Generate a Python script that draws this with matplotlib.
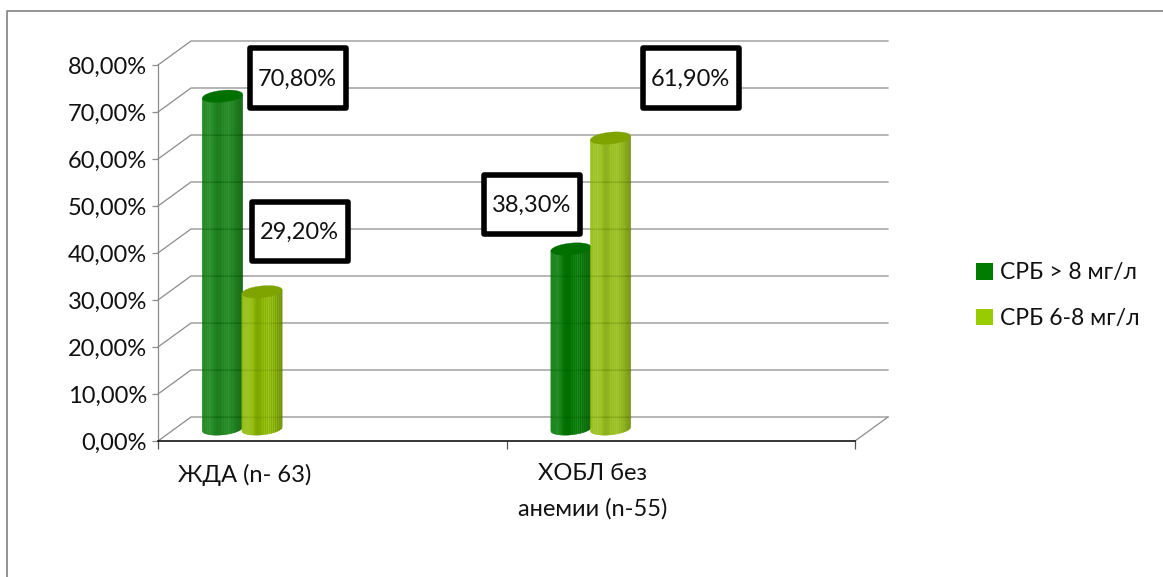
import numpy as np
import matplotlib
matplotlib.use("Agg")
import matplotlib.pyplot as plt
from matplotlib.patches import Polygon, Rectangle

plt.rcParams['font.family'] = ['Lato', 'Noto Sans', 'DejaVu Sans']

# Chart data
categories = ["ЖДА (n- 63)", "ХОБЛ без\nанемии (n-55)"]
series_names = ["СРБ > 8 мг/л", "СРБ 6-8 мг/л"]
crp_high = [70.8, 38.3]
crp_mid = [29.2, 61.9]
y_ticks = [0, 10, 20, 30, 40, 50, 60, 70, 80]

# Colours
GREEN = "#007d00"
LIME = "#99cc00"
GREEN_BODY = "#007800"
LIME_BODY = "#8dba00"
GREEN_TOP = "#007000"
LIME_TOP = "#7fa400"
GRID = "#8c8c8c"
INK = "#111111"

FONT_PT = 17

W, H = 1163, 577
LEFT, RIGHT, BOTTOM, TOP = 158, 855, 441, 65
fig = plt.figure(figsize=(W / 100, H / 100), dpi=100)
ax = fig.add_axes([LEFT / W, 1 - BOTTOM / H, (RIGHT - LEFT) / W, (BOTTOM - TOP) / H])
ax.set_xlim(0, 2)
ax.set_ylim(0, 80)
ax.patch.set_alpha(0)

PX_X = 2 / (RIGHT - LEFT)
PX_Y = 80 / (BOTTOM - TOP)


def px(x, y):
    """Convert figure pixels (origin top left) into axis units."""
    return (x - LEFT) * PX_X, (BOTTOM - y) * PX_Y


# Outer chart frame, open on the right and at the bottom
fig.add_artist(plt.Line2D([7 / W, 7 / W, 1], [0, 1 - 11 / H, 1 - 11 / H],
                          color="#8a8a8a", lw=1.3))

# Back wall grid and the slanted floor/side lines
DEPTH_X, DEPTH_Y = 33 * PX_X, 24 * PX_Y
for v in y_ticks:
    ax.plot([0, DEPTH_X, 2 + DEPTH_X], [v, v + DEPTH_Y, v + DEPTH_Y],
            color=GRID, lw=0.9, clip_on=False, zorder=1)
ax.plot([2, 2 + DEPTH_X], [0, DEPTH_Y], color=GRID, lw=0.9, clip_on=False, zorder=1)

# Brightness of each vertical facet across a cylinder: >0 towards white, <0 towards black
facets = [0.04, 0.07, 0.03, 0.09, 0.04, 0.11, 0.05, 0.13, 0.06, 0.05,
          0.04, 0.01, -0.03, -0.08, -0.10, -0.10, -0.10, -0.09, -0.08, -0.05,
          0.05, -0.05, 0.08, -0.03, 0.09, -0.02, 0.12, -0.02, 0.07, -0.08,
          0.06, -0.13, 0.00, -0.17, -0.06, -0.21, -0.13, -0.23, -0.19, -0.25]


def shade(colour, amount):
    rgb = np.array(matplotlib.colors.to_rgb(colour))
    return tuple(rgb + (1 - rgb) * amount) if amount > 0 else tuple(rgb * (1 + amount))


RADIUS = 20.2 * PX_X
ELL_H = 5.9 * PX_Y
TILT = 1.9 * PX_Y
BASE = 12 * PX_Y


def cylinder(cx, value, body, top, z):
    n = len(facets)
    edges = np.linspace(-1, 1, n + 1)
    y0, y1 = BASE, BASE + value
    for i, amount in enumerate(facets):
        t = np.linspace(edges[i], edges[i + 1], 5)
        low = y0 - ELL_H * np.sqrt(1 - t ** 2) + TILT * t
        high = y1 + TILT * t
        xs = cx + RADIUS * t
        c = shade(body, amount)
        verts = np.r_[np.c_[xs, low], np.c_[xs[::-1], high[::-1]]]
        ax.add_patch(Polygon(verts, closed=True, fc=c, ec=c, lw=0.2, clip_on=False, zorder=z))
    a = np.linspace(0, 2 * np.pi, 80)
    verts = np.c_[cx + RADIUS * np.cos(a), y1 + ELL_H * np.sin(a) + TILT * np.cos(a)]
    ax.add_patch(Polygon(verts, closed=True, fc=top, ec=top, lw=0.2, clip_on=False, zorder=z + 0.1))
    # Wall grid lines show faintly through the bar
    for v in y_ticks:
        yv = v + DEPTH_Y
        if y0 < yv < y1:
            ax.plot([cx - RADIUS, cx + RADIUS], [yv, yv], color="#000000", alpha=0.07,
                    lw=0.9, clip_on=False, zorder=z + 0.05)


for i in range(len(categories)):
    c0 = i + (64.5 * PX_X)
    c1 = i + (104.0 * PX_X)
    cylinder(c0, crp_high[i], GREEN_BODY, GREEN_TOP, 3)
    cylinder(c1, crp_mid[i], LIME_BODY, LIME_TOP, 4)

# Value callouts
box_spots = {
    (0, 0): (249.5, 48.5),
    (0, 1): (251.5, 201.5),
    (1, 0): (484.0, 174.5),
    (1, 1): (642.5, 48.5),
}
BOX_W, BOX_H = 96, 59
for (cat, ser), (bx, by) in box_spots.items():
    value = (crp_high, crp_mid)[ser][cat]
    x0, y1 = px(bx, by)
    x1, y0 = px(bx + BOX_W, by + BOX_H)
    ax.add_patch(Rectangle((x0, y0), x1 - x0, y1 - y0, fc="white", ec="black", lw=4.0,
                           joinstyle="round", clip_on=False, zorder=8))
    ax.text((x0 + x1) / 2, (y0 + y1) / 2 - 1.5 * PX_Y, f"{value:.2f}%".replace(".", ","),
            ha="center", va="center", fontsize=FONT_PT, color=INK, zorder=9)

# Axes
for name in ("top", "right"):
    ax.spines[name].set_visible(False)
ax.spines["left"].set_color(GRID)
ax.spines["left"].set_linewidth(0.9)
ax.spines["bottom"].set_color("black")
ax.spines["bottom"].set_linewidth(1.1)
ax.set_yticks(y_ticks)
ax.set_yticklabels([f"{v:.2f}%".replace(".", ",") for v in y_ticks], fontsize=FONT_PT, color=INK)
ax.tick_params(axis="y", length=4.3, width=0.9, color=GRID, pad=3.5)
ax.set_xticks([0, 1, 2])
ax.set_xticklabels([])
ax.tick_params(axis="x", length=5.8, width=0.9, color="#555555")

# Category labels
label_centres = [245, 593]
for name, cx in zip(categories, label_centres):
    x, y = px(cx, 463.5)
    ax.text(x, y, name, ha="center", va="top", fontsize=FONT_PT, color=INK,
            linespacing=1.8, clip_on=False)

# Legend
handles = [Rectangle((0, 0), 1, 1, fc=GREEN), Rectangle((0, 0), 1, 1, fc=LIME)]
fig.legend(handles, series_names, loc="upper left", bbox_to_anchor=(969 / W, 1 - 255.5 / H),
           frameon=False, fontsize=16.5, handlelength=0.74, handleheight=0.74,
           handletextpad=0.3, labelspacing=1.08, labelcolor=INK,
           borderpad=0.3, borderaxespad=0)

fig.savefig("out.png", dpi=100)
